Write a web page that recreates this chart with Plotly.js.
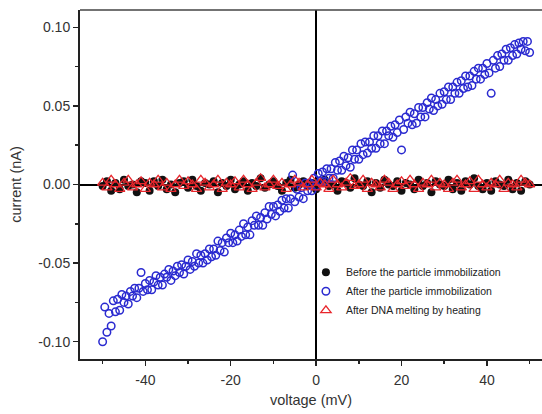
<!DOCTYPE html>
<html>
<head>
<meta charset="utf-8">
<script src="https://cdn.plot.ly/plotly-3.0.1.min.js"></script>
<style>html,body{margin:0;padding:0;background:#fff;}#chart{width:542px;height:414px;}</style>
</head>
<body>
<div id="chart"></div>
<script>
// Voltage sweeps (mV): start and step of each measured series
var sweepStart = -50;
var stepBefore = 1;
var stepAfter = 0.5;
var stepMelt = 1;

// current (nA) before particle immobilization (x = -50..50, step 1)
var currentBefore = [
 -0.001,0.002,-0.004,0.001,-0.003,0.003,-0.001,0.000,-0.005,0.002,
 0.001,-0.004,0.002,-0.001,0.003,-0.003,0.000,-0.005,0.001,0.002,
 -0.002,0.003,-0.001,-0.004,0.001,0.000,0.002,-0.005,0.001,-0.001,
 0.003,-0.003,0.000,0.002,-0.004,0.001,-0.001,0.004,-0.002,0.000,
 0.002,-0.001,-0.004,0.001,0.003,-0.002,0.000,0.002,-0.001,0.001,
 -0.003,0.001,0.003,-0.001,0.000,-0.004,0.002,0.001,-0.002,0.004,
 0.000,-0.001,0.002,-0.005,0.001,-0.002,0.003,0.000,-0.001,0.002,
 -0.004,0.001,0.000,-0.003,0.003,-0.001,0.001,-0.005,0.002,0.000,
 -0.001,0.003,-0.003,0.001,-0.004,0.002,0.000,0.004,-0.001,-0.003,
 0.001,-0.004,0.002,0.000,-0.001,0.003,-0.003,0.001,-0.004,0.002,0.000
];

// current (nA) after particle immobilization (x = -50..50, step 0.5)
var currentAfter = [
 -0.100,-0.078,-0.094,-0.082,-0.090,-0.074,-0.081,-0.073,-0.080,-0.070,
 -0.075,-0.071,-0.076,-0.068,-0.071,-0.066,-0.072,-0.066,-0.056,-0.068,
 -0.063,-0.067,-0.061,-0.067,-0.062,-0.058,-0.064,-0.059,-0.064,-0.057,
 -0.059,-0.054,-0.061,-0.055,-0.058,-0.052,-0.056,-0.051,-0.057,-0.052,
 -0.048,-0.054,-0.049,-0.052,-0.044,-0.050,-0.045,-0.050,-0.044,-0.048,
 -0.041,-0.046,-0.041,-0.045,-0.036,-0.042,-0.037,-0.043,-0.034,-0.037,
 -0.031,-0.037,-0.032,-0.036,-0.029,-0.033,-0.025,-0.032,-0.027,-0.032,
 -0.023,-0.026,-0.020,-0.026,-0.021,-0.026,-0.018,-0.022,-0.014,-0.019,
 -0.014,-0.020,-0.013,-0.017,-0.010,-0.015,-0.009,-0.015,-0.009,0.006,
 -0.011,-0.003,-0.008,-0.002,-0.009,0.001,-0.004,0.001,-0.004,0.004,
 -0.001,0.007,0.002,0.008,0.002,0.010,0.004,0.010,0.004,0.014,
 0.009,0.015,0.009,0.018,0.012,0.017,0.011,0.022,0.016,0.022,
 0.016,0.026,0.019,0.027,0.020,0.027,0.023,0.031,0.023,0.031,
 0.026,0.034,0.026,0.034,0.031,0.037,0.030,0.038,0.033,0.041,
 0.022,0.035,0.043,0.039,0.046,0.038,0.045,0.039,0.049,0.043,
 0.049,0.043,0.052,0.048,0.055,0.047,0.054,0.050,0.058,0.051,
 0.059,0.054,0.062,0.054,0.062,0.058,0.065,0.058,0.066,0.061,
 0.069,0.062,0.069,0.063,0.072,0.067,0.074,0.067,0.074,0.070,
 0.077,0.071,0.058,0.079,0.074,0.082,0.075,0.083,0.079,0.086,
 0.079,0.087,0.082,0.089,0.083,0.090,0.086,0.091,0.085,0.091,
 0.084
];

// current (nA) after DNA melting by heating (x = -50..50, step 1)
var currentMelt = [
 0.001,-0.002,0.003,0.000,-0.003,0.001,0.003,-0.002,0.000,0.002,
 -0.003,0.001,0.000,0.003,-0.002,0.001,-0.003,0.000,0.003,-0.001,
 0.002,0.000,-0.003,0.003,0.001,-0.002,0.000,0.003,-0.003,0.001,
 0.000,0.002,-0.002,0.003,0.000,-0.003,0.001,0.004,-0.002,0.000,
 0.003,-0.001,0.001,-0.003,0.000,0.003,0.001,-0.002,0.000,0.003,
 -0.002,0.001,0.000,-0.003,0.003,0.000,-0.002,0.001,0.004,-0.001,
 0.000,0.003,-0.003,0.001,0.000,-0.002,0.003,0.001,-0.003,0.000,
 0.002,-0.001,0.003,0.000,-0.003,0.001,0.000,0.003,-0.002,0.001,
 0.000,-0.003,0.001,0.003,-0.002,0.000,0.002,-0.003,0.003,0.000,
 -0.002,0.001,0.000,0.003,-0.003,0.001,0.000,-0.002,0.003,0.001,0.000
];

var seriesNames = ["Before the particle immobilization", "After the particle immobilization", "After DNA melting by heating"];
var xTickVals = [-40, -20, 0, 20, 40];
var xTickText = ["-40", "-20", "0", "20", "40"];
var yTickVals = [-0.10, -0.05, 0.00, 0.05, 0.10];
var yTickText = ["-0.10", "-0.05", "0.00", "0.05", "0.10"];

var traces = [
  {type:"scatter", mode:"markers", name:seriesNames[0], y:currentBefore, x0:sweepStart, dx:stepBefore,
   marker:{symbol:"circle", size:8, color:"#111111", line:{width:0}}},
  {type:"scatter", mode:"markers", name:seriesNames[1], y:currentAfter, x0:sweepStart, dx:stepAfter,
   marker:{symbol:"circle-open", size:7.5, color:"#2a2ad0", line:{width:1.5, color:"#2a2ad0"}}},
  {type:"scatter", mode:"markers", name:seriesNames[2], y:currentMelt, x0:sweepStart, dx:stepMelt,
   marker:{symbol:"triangle-up-open", size:9, color:"#e8262c", line:{width:1.3, color:"#e8262c"}}}
];

var fam = "Liberation Sans, Arial, sans-serif";
var tickFont = {family:fam, size:14, color:"#333"};

var layout = {
  width:542, height:414,
  margin:{l:80, r:0, t:10, b:55},
  paper_bgcolor:"#fff", plot_bgcolor:"#fff",
  showlegend:true,
  legend:{x:0.489, y:0.29, xanchor:"left", yanchor:"top", bgcolor:"rgba(0,0,0,0)",
          font:{family:fam, size:10.5, color:"#222"}, itemwidth:30},
  xaxis:{range:[-55.3, 52.9], showgrid:false, zeroline:true, zerolinecolor:"#000", zerolinewidth:2,
         showline:true, linecolor:"#222", linewidth:2, ticks:"outside", ticklen:5, tickwidth:1.5, tickcolor:"#222",
         tickvals:xTickVals, ticktext:xTickText, tickfont:tickFont, ticklabelstandoff:2,
         minor:{dtick:10, tick0:0, ticks:"outside", ticklen:3, tickwidth:1.5, tickcolor:"#222", showgrid:false},
         title:{text:"voltage (mV)", font:{family:fam, size:14.5, color:"#333"}, standoff:8}},
  yaxis:{range:[-0.111, 0.111], showgrid:false, zeroline:true, zerolinecolor:"#000", zerolinewidth:2,
         showline:true, linecolor:"#222", linewidth:2, ticks:"outside", ticklen:5, tickwidth:1.5, tickcolor:"#222",
         tickvals:yTickVals, ticktext:yTickText, tickfont:tickFont,
         minor:{dtick:0.025, tick0:0, ticks:"outside", ticklen:3, tickwidth:1.5, tickcolor:"#222", showgrid:false},
         title:{text:"current (nA)", font:{family:fam, size:14.5, color:"#333"}, standoff:13}},
  shapes:[{type:"line", xref:"paper", yref:"paper", x0:0, x1:1, y0:1, y1:1, line:{color:"#444", width:1.5}}]
};

Plotly.newPlot("chart", traces, layout, {displayModeBar:false, staticPlot:true});
</script>
</body>
</html>
